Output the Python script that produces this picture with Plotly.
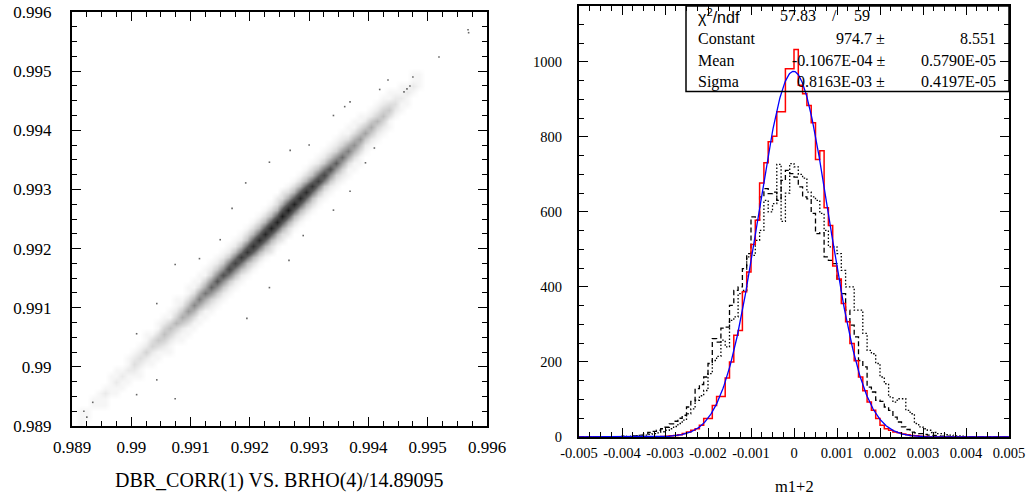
import numpy as np
import plotly.graph_objects as go

W, H = 1028, 495

# ---------------- Left panel data (2D density) -------------
# cell size 0.0001 x 0.0001 ; column centres along x, the dense band follows y ~ x
scatter_col_x = [round(0.98905 + 0.0001 * i, 5) for i in range(70)]
scatter_row_y = [round(0.98905 + 0.0001 * j, 5) for j in range(70)]
# counts in the cells at y-offsets -4..+4 rows from the diagonal, one list per column
band_counts = [
    [0,0,0,0,0,0,0,0,0], [0,0,0,1,1,1,0,0,0], [0,0,0,1,1,0,0,0,0], [0,0,0,0,1,1,0,0,0],
    [0,0,0,1,1,1,0,0,0], [0,0,1,1,2,1,0,0,0], [0,0,0,1,1,1,1,0,0], [0,0,1,1,2,1,1,0,0],
    [0,0,1,1,2,1,0,0,0], [0,0,1,1,2,1,1,0,0], [0,0,1,2,3,2,1,0,0], [0,1,1,2,3,2,1,0,0],
    [0,0,1,2,4,2,1,1,0], [0,1,1,2,4,3,1,0,0], [0,1,1,3,5,3,1,1,0], [0,1,2,4,6,4,2,1,0],
    [1,1,2,4,6,4,1,1,0], [0,1,2,4,7,4,2,1,1], [1,1,2,5,8,5,2,1,0], [1,1,3,6,10,6,3,1,1],
    [1,1,3,7,12,7,3,1,1], [1,1,3,8,13,8,3,1,1], [1,1,4,8,14,8,4,1,1], [1,2,4,10,16,10,4,2,1],
    [1,2,5,11,18,11,5,2,1], [1,2,5,11,19,11,5,2,1], [1,2,5,13,21,13,5,2,1], [1,2,6,13,22,13,6,2,1],
    [1,2,6,14,24,14,6,2,1], [1,3,6,15,25,15,6,3,1], [1,3,7,16,26,16,7,3,1], [1,3,7,16,27,16,7,3,1],
    [1,3,7,17,28,17,7,3,1], [2,3,7,17,29,17,7,3,1], [1,3,7,17,29,17,7,3,2], [2,3,8,18,30,18,8,3,2],
    [2,3,8,18,30,18,8,3,1], [1,3,7,17,29,17,7,3,1], [1,3,7,17,28,17,7,3,1], [1,3,7,16,27,16,7,3,1],
    [1,3,6,15,25,15,6,3,1], [1,2,6,14,23,14,6,2,1], [1,2,5,13,21,13,5,2,1], [1,2,5,11,19,11,5,2,1],
    [1,2,4,10,17,10,4,2,1], [1,2,4,9,15,9,4,2,1], [1,1,3,8,13,8,3,1,1], [1,1,3,7,11,7,3,1,1],
    [1,1,3,6,10,6,3,1,1], [0,1,2,5,9,5,2,1,0], [0,1,2,5,8,5,2,1,0], [0,1,2,4,7,4,2,1,0],
    [0,1,2,4,6,4,2,1,0], [0,1,1,3,5,3,1,1,0], [0,0,1,2,3,2,1,0,0], [0,0,1,1,2,1,1,0,0],
    [0,0,1,1,2,1,0,0,0], [0,0,0,1,2,1,1,0,0], [0,0,0,1,1,1,0,0,0], [0,0,0,0,0,0,0,0,0],
]
band_offsets = [-4, -3, -2, -1, 0, 1, 2, 3, 4]

# isolated points
outlier_x = [0.99568, 0.99569, 0.99519, 0.99475, 0.99470, 0.99465, 0.99460, 0.99433, 0.99419,
             0.99369, 0.99341, 0.99268, 0.99233, 0.99193, 0.99369, 0.99341, 0.99290, 0.99266,
             0.99233, 0.99195, 0.99170, 0.99074, 0.99115, 0.99043, 0.99009, 0.99009, 0.99074,
             0.99043, 0.98925, 0.98920, 0.98935, 0.99395, 0.99410, 0.99360, 0.99300, 0.99150]
outlier_y = [0.99570, 0.99565, 0.99524, 0.99490, 0.99475, 0.99470, 0.99465, 0.99485, 0.99469,
             0.99448, 0.99425, 0.99366, 0.99346, 0.99311, 0.99297, 0.99265, 0.99222, 0.99180,
             0.99134, 0.99082, 0.99268, 0.99173, 0.99183, 0.99107, 0.99056, 0.98953, 0.98946,
             0.98978, 0.98915, 0.98925, 0.98940, 0.99345, 0.99370, 0.99440, 0.99375, 0.99215]

# ---------------- Right panel data ----------------
hist_lo, hist_hi, hist_nbins = -0.005, 0.005, 100
red_counts = [0]*19 + [
    1, 2, 3, 4, 6, 9, 13, 18, 22, 31, 49, 49, 84, 108, 108, 157, 200, 271, 284, 387,
    440, 513, 578, 677, 731, 787, 802, 867, 867, 982, 982, 1033, 938, 915, 884, 838, 740, 763, 611, 564,
    456, 421, 356, 307, 249, 203, 160, 123, 93, 71, 49, 31, 22, 18, 13, 11, 8, 6, 4, 3,
    2, 1] + [0]*19
dashed_counts = [0]*8 + [
    1, 1, 2, 1, 3, 3, 5, 8, 12, 15, 18, 22, 26, 35, 42, 50, 58, 80, 95, 129,
    140, 160, 196, 262, 253, 290, 293, 351, 391, 400, 449, 489, 587, 578, 640, 662, 649, 653, 631, 684,
    711, 702, 693, 667, 640, 635, 596, 542, 545, 480, 471, 462, 418, 382, 338, 298, 267, 204, 187, 133,
    120, 98, 95, 80, 71, 53, 40, 27, 20, 13, 11, 9, 7, 5, 4, 3, 2, 2, 1, 1,
    0, 1] + [0]*10
dotted_counts = [0]*8 + [
    1, 0, 2, 1, 2, 3, 4, 5, 7, 9, 11, 14, 18, 22, 28, 36, 45, 62, 75, 98,
    110, 124, 169, 204, 215, 258, 240, 311, 320, 382, 391, 480, 484, 524, 551, 631, 600, 622, 727, 575,
    650, 729, 720, 700, 690, 653, 640, 631, 596, 551, 507, 507, 489, 444, 400, 400, 338, 338, 276, 231,
    222, 196, 160, 142, 107, 93, 102, 102, 71, 62, 36, 27, 22, 18, 12, 9, 9, 6, 5, 3,
    3, 2, 1, 1] + [0]*8

fit_const, fit_mean, fit_sigma = 974.7, -0.1067e-04, 0.8163e-03

# ---------------- build figure ----------------
def fx(p):
    return p / W

def fy(p):
    return 1 - p / H

fig = go.Figure()

# density table for the left panel
z = [[0] * len(scatter_col_x) for _ in scatter_row_y]
for i, col in enumerate(band_counts):
    for off, v in zip(band_offsets, col):
        j = i + off
        if 0 <= j < len(scatter_row_y):
            z[j][i] = v

fig.add_trace(go.Heatmap(
    x=scatter_col_x, y=scatter_row_y, z=z, zmin=0, zmax=30, zsmooth="best",
    colorscale=[[0, "#ffffff"], [0.04, "#f4f4f4"], [0.1, "#dedede"], [0.25, "#b0b0b0"],
                [0.55, "#5e5e5e"], [1, "#1c1c1c"]],
    showscale=False, hoverinfo="skip", xaxis="x", yaxis="y"))
fig.add_trace(go.Scatter(
    x=outlier_x, y=outlier_y, mode="markers",
    marker=dict(size=1.6, color="#666666", symbol="square", line=dict(width=0)),
    hoverinfo="skip", showlegend=False, xaxis="x", yaxis="y"))

edges = np.linspace(hist_lo, hist_hi, hist_nbins + 1)

def steps(counts):
    return list(edges), list(counts) + [counts[-1]]

for counts, col, dash, wid in [(dotted_counts, "black", "1.5px,2px", 1.3),
                               (dashed_counts, "black", "5px,3px", 1.3),
                               (red_counts, "red", "solid", 1.5)]:
    sx, sy = steps(counts)
    fig.add_trace(go.Scatter(x=sx, y=sy, mode="lines", line_shape="hv",
                             line=dict(color=col, width=wid, dash=dash),
                             hoverinfo="skip", showlegend=False, xaxis="x2", yaxis="y2"))

curve_x = np.linspace(hist_lo, hist_hi, 801)
curve_y = fit_const * np.exp(-0.5 * ((curve_x - fit_mean) / fit_sigma) ** 2)
fig.add_trace(go.Scatter(x=curve_x, y=curve_y, mode="lines",
                         line=dict(color="blue", width=1.3),
                         hoverinfo="skip", showlegend=False, xaxis="x2", yaxis="y2"))

serif = "Liberation Serif"

def axis(domain, rng, tickvals, ticktext, minor_dtick, minor_tick0, size, standoff, anchor):
    return dict(domain=domain, range=rng, anchor=anchor, automargin=False,
                showline=True, linecolor="black", linewidth=2, mirror="allticks",
                ticks="inside", ticklen=9, tickwidth=1, tickcolor="black",
                tickmode="array", tickvals=tickvals, ticktext=ticktext,
                tickfont=dict(family=serif, size=size, color="black"),
                ticklabelstandoff=standoff,
                showgrid=False, zeroline=False,
                minor=dict(ticks="inside", ticklen=5, tickwidth=1, tickcolor="black",
                           dtick=minor_dtick, tick0=minor_tick0, showgrid=False))

left_ticks = [0.989, 0.990, 0.991, 0.992, 0.993, 0.994, 0.995, 0.996]
left_text = ["0.989", "0.99", "0.991", "0.992", "0.993", "0.994", "0.995", "0.996"]
right_xticks = [-0.005, -0.004, -0.003, -0.002, -0.001, 0, 0.001, 0.002, 0.003, 0.004, 0.005]
right_xtext = ["-0.005", "-0.004", "-0.003", "-0.002", "-0.001", "0",
               "0.001", "0.002", "0.003", "0.004", "0.005"]
right_yticks = [0, 200, 400, 600, 800, 1000]
right_ytext = ["0", "200", "400", "600", "800", "1000"]

fig.update_layout(
    width=W, height=H, margin=dict(l=0, r=0, t=0, b=0, autoexpand=False),
    paper_bgcolor="white", plot_bgcolor="white", showlegend=False,
    xaxis=axis([fx(72), fx(487)], [0.989, 0.996], left_ticks, left_text, 0.00025, 0.989, 17, 5, "y"),
    yaxis=axis([fy(426), fy(12)], [0.989, 0.996], left_ticks, left_text, 0.00025, 0.989, 17, 15, "x"),
    xaxis2=axis([fx(579), fx(1009)], [-0.005, 0.005], right_xticks, right_xtext, 0.00025, -0.005, 14.5, 2, "y2"),
    yaxis2=axis([fy(437), fy(6)], [0, 1149], right_yticks, right_ytext, 50, 0, 14.5, 12, "x2"),
)

annots = [
    dict(text="DBR_CORR(1) VS. BRHO(4)/14.89095", x=fx(279), y=fy(480), xanchor="center",
         yanchor="middle", font=dict(family=serif, size=20, color="black")),
    dict(text="m1+2", x=fx(794), y=fy(486), xanchor="center", yanchor="middle",
         font=dict(family=serif, size=16.5, color="black")),
    dict(text="χ<sup>2</sup>/ndf", x=fx(697), y=fy(16), xanchor="left", yanchor="middle",
         font=dict(family="Liberation Sans", size=16, color="black")),
    dict(text="57.83", x=fx(779), y=fy(16), xanchor="left", yanchor="middle",
         font=dict(family=serif, size=16, color="black")),
    dict(text="/", x=fx(834), y=fy(16), xanchor="center", yanchor="middle",
         font=dict(family=serif, size=16, color="black")),
    dict(text="59", x=fx(853), y=fy(16), xanchor="left", yanchor="middle",
         font=dict(family=serif, size=16, color="black")),
]
rows = [("Constant", "974.7 ±", "8.551", 39),
        ("Mean", "-0.1067E-04 ±", "0.5790E-05", 60.5),
        ("Sigma", "0.8163E-03 ±", "0.4197E-05", 81.5)]
for lab, val, err, yy in rows:
    annots.append(dict(text=lab, x=fx(697), y=fy(yy), xanchor="left", yanchor="middle",
                       font=dict(family=serif, size=16, color="black")))
    annots.append(dict(text=val, x=fx(886), y=fy(yy), xanchor="right", yanchor="middle",
                       font=dict(family=serif, size=16, color="black")))
    annots.append(dict(text=err, x=fx(997), y=fy(yy), xanchor="right", yanchor="middle",
                       font=dict(family=serif, size=16, color="black")))
for a in annots:
    a.update(xref="paper", yref="paper", showarrow=False, borderpad=0)
fig.update_layout(annotations=annots)

fig.add_shape(type="rect", xref="paper", yref="paper",
              x0=fx(686), x1=fx(1009), y0=fy(91.5), y1=fy(6),
              line=dict(color="black", width=1.5), fillcolor="rgba(0,0,0,0)", layer="above")

fig.write_html("out.html", config={"displayModeBar": False},
               post_script="document.body.style.margin='0';document.body.style.overflow='hidden';")
